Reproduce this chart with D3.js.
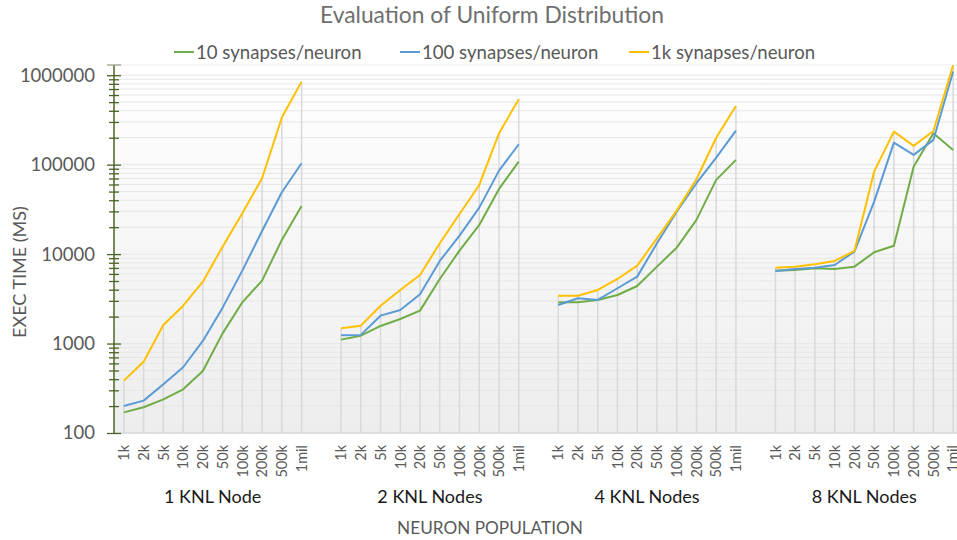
<!DOCTYPE html>
<html>
<head>
<meta charset="utf-8">
<script src="https://cdn.jsdelivr.net/npm/d3@7"></script>
<style>
  body { margin: 0; background: #fff; }
  svg text { font-family: Lato, "Open Sans", sans-serif; }
</style>
</head>
<body>
<svg id="chart" width="957" height="540"></svg>
<script>
// ---- data ----------------------------------------------------------------
const groups = ["1 KNL Node", "2 KNL Nodes", "4 KNL Nodes", "8 KNL Nodes"];
const populations = ["1k", "2k", "5k", "10k", "20k", "50k", "100k", "200k", "500k", "1mil"];
const seriesNames = ["10 synapses/neuron", "100 synapses/neuron", "1k synapses/neuron"];
const yTickValues = [100, 1000, 10000, 100000, 1000000];

// execution time in ms: one row per node count, one value per population
const syn10 = [
  [170, 194, 238, 308, 493, 1300, 2890, 5050, 14400, 34500],
  [1106, 1225, 1572, 1882, 2333, 5270, 10950, 21200, 53500, 108000],
  [2890, 2890, 3070, 3490, 4400, 7240, 11800, 24100, 67500, 113000],
  [6530, 6660, 6950, 6820, 7240, 10480, 12400, 95000, 224000, 146000]
];
const syn100 = [
  [200, 230, 350, 543, 1070, 2520, 6530, 18150, 49100, 103800],
  [1237, 1250, 2050, 2372, 3550, 8380, 16100, 33100, 85700, 169000],
  [2700, 3210, 3070, 4150, 5600, 13200, 29800, 62000, 119700, 240000],
  [6480, 6820, 7050, 7560, 10650, 38600, 176000, 128500, 189000, 1100000]
];
const syn1k = [
  [385, 627, 1614, 2650, 4920, 12100, 28600, 70500, 336000, 847000],
  [1482, 1585, 2650, 3970, 5840, 13200, 28100, 59300, 224000, 538000],
  [3430, 3430, 3970, 5270, 7430, 15000, 30600, 68700, 200000, 453000],
  [7050, 7240, 7690, 8380, 10840, 83500, 234000, 162000, 238000, 1290000]
];

// ---- styles / layout -----------------------------------------------------
const seriesData = [syn10, syn100, syn1k];
const seriesColors = ["#70ad47", "#5b9bd5", "#ffc000"];
const textGrey = "#595959";
const axisGreen = "#4a6427";
const plot = { left: 114, right: 963, top: 65, bottom: 433 };

const svg = d3.select("#chart");

// category slots: one empty slot separates consecutive node groups
const slots = [];
groups.forEach((g, gi) => {
  if (gi > 0) slots.push("gap" + gi);
  populations.forEach(p => slots.push(g + "|" + p));
});
const x = d3.scaleBand().domain(slots).range([plot.left, plot.right]).padding(0);
const cx = (g, p) => x(g + "|" + p) + x.bandwidth() / 2;

const y = d3.scaleLog().domain([100, 1.3e6]).range([plot.bottom, plot.top]);

// plot background gradient
const defs = svg.append("defs");
const grad = defs.append("linearGradient").attr("id", "bg")
  .attr("x1", 0).attr("y1", 0).attr("x2", 0).attr("y2", 1);
grad.append("stop").attr("offset", "0%").attr("stop-color", "#ffffff");
grad.append("stop").attr("offset", "100%").attr("stop-color", "#ededed");
defs.append("clipPath").attr("id", "clip").append("rect")
  .attr("x", plot.left).attr("y", plot.top - 2)
  .attr("width", plot.right - plot.left).attr("height", plot.bottom - plot.top + 4);

svg.append("rect")
  .attr("x", plot.left).attr("y", plot.top)
  .attr("width", plot.right - plot.left).attr("height", plot.bottom - plot.top)
  .attr("fill", "url(#bg)");

// horizontal gridlines at every minor log step
const minorValues = [];
for (let e = 2; e <= 6; e++) {
  for (let k = 1; k <= 9; k++) {
    const v = k * Math.pow(10, e);
    if (v <= 1.3e6) minorValues.push(v);
  }
}
svg.append("g").selectAll("line").data(minorValues).join("line")
  .attr("x1", plot.left).attr("x2", plot.right)
  .attr("y1", d => y(d)).attr("y2", d => y(d))
  .attr("stroke", "#e6e6e6").attr("stroke-width", 1);
svg.append("line")
  .attr("x1", plot.left).attr("x2", plot.right)
  .attr("y1", plot.top).attr("y2", plot.top)
  .attr("stroke", "#ececec");

// bottom category axis line
svg.append("line")
  .attr("x1", plot.left).attr("x2", plot.right)
  .attr("y1", plot.bottom).attr("y2", plot.bottom)
  .attr("stroke", "#d9d9d9").attr("stroke-width", 1.5);

// drop lines from the highest series down to the axis
const drops = [];
groups.forEach((g, gi) => populations.forEach((p, pi) => {
  drops.push({ g, p, v: d3.max(seriesData, s => s[gi][pi]) });
}));
svg.append("g").attr("clip-path", "url(#clip)")
  .selectAll("line").data(drops).join("line")
  .attr("x1", d => cx(d.g, d.p)).attr("x2", d => cx(d.g, d.p))
  .attr("y1", d => y(d.v)).attr("y2", plot.bottom)
  .attr("stroke", "#d9d9d9").attr("stroke-width", 1.5);

// series lines, one path per node group
const line = d3.line()
  .x(d => d.x)
  .y(d => y(d.v));
const lineLayer = svg.append("g").attr("clip-path", "url(#clip)");
seriesData.forEach((s, si) => {
  groups.forEach((g, gi) => {
    const pts = populations.map((p, pi) => ({ x: cx(g, p), v: s[gi][pi] }));
    lineLayer.append("path").datum(pts)
      .attr("d", line)
      .attr("fill", "none")
      .attr("stroke", seriesColors[si])
      .attr("stroke-width", 2)
      .attr("stroke-linejoin", "round");
  });
});

// value axis: crossing major and minor ticks
const minorOnly = minorValues.filter(v => !yTickValues.includes(v));
const tickAxis = (gen, vals, size) => svg.append("g")
  .attr("transform", `translate(${plot.left},0)`)
  .call(gen(y).tickValues(vals).tickSize(size).tickFormat(""))
  .call(g => g.select(".domain").remove())
  .call(g => g.selectAll("line").attr("stroke", axisGreen).attr("stroke-width", 1.3));
tickAxis(d3.axisLeft, yTickValues, 7);
tickAxis(d3.axisRight, yTickValues, 7);
tickAxis(d3.axisLeft, minorOnly, 5);
tickAxis(d3.axisRight, minorOnly, 5);

svg.append("line")
  .attr("x1", plot.left).attr("x2", plot.left)
  .attr("y1", plot.top).attr("y2", plot.bottom)
  .attr("stroke", axisGreen).attr("stroke-width", 1.5);
svg.append("line")
  .attr("x1", plot.left - 7).attr("x2", plot.left + 7)
  .attr("y1", plot.top).attr("y2", plot.top)
  .attr("stroke", "#9aa58a").attr("stroke-width", 1.3);

svg.append("g")
  .attr("transform", `translate(${plot.left},0)`)
  .call(d3.axisLeft(y).tickValues(yTickValues).tickSize(0).tickPadding(19)
    .tickFormat(d3.format("d")))
  .call(g => g.select(".domain").remove())
  .call(g => g.selectAll("text")
    .attr("fill", textGrey).style("font-size", "18.5px"));

// rotated population labels
svg.append("g").selectAll("text").data(drops).join("text")
  .attr("transform", d => `translate(${cx(d.g, d.p)},445) rotate(-90)`)
  .attr("text-anchor", "end")
  .attr("dy", "0.36em")
  .attr("fill", textGrey)
  .style("font-size", "14.5px")
  .text(d => d.p);

// node group labels
svg.append("g").selectAll("text").data(groups).join("text")
  .attr("x", g => (cx(g, populations[0]) + cx(g, populations[populations.length - 1])) / 2)
  .attr("y", 503)
  .attr("text-anchor", "middle")
  .attr("fill", "#1a1a1a")
  .style("font-size", "18px")
  .text(g => g);

// axis titles
svg.append("text")
  .attr("x", 490).attr("y", 534)
  .attr("text-anchor", "middle")
  .attr("fill", textGrey)
  .style("font-size", "17.2px")
  .text("NEURON POPULATION");

svg.append("text")
  .attr("transform", "translate(26,272) rotate(-90)")
  .attr("text-anchor", "middle")
  .attr("fill", textGrey)
  .style("font-size", "18px")
  .text("EXEC TIME (MS)");

// chart title
svg.append("text")
  .attr("x", 492).attr("y", 23)
  .attr("text-anchor", "middle")
  .attr("fill", "#6f6f6f")
  .style("font-size", "22.8px")
  .text("Evaluation of Uniform Distribution");

// legend
const legendX = [174, 400, 629];
const legend = svg.append("g").selectAll("g").data(seriesNames).join("g")
  .attr("transform", (d, i) => `translate(${legendX[i]},52)`);
legend.append("line")
  .attr("x1", 0).attr("x2", 20).attr("y1", 0).attr("y2", 0)
  .attr("stroke", (d, i) => seriesColors[i]).attr("stroke-width", 2);
legend.append("text")
  .attr("x", 22).attr("y", 0).attr("dy", "0.35em")
  .attr("fill", textGrey)
  .style("font-size", "18.6px")
  .text(d => d);
</script>
</body>
</html>
